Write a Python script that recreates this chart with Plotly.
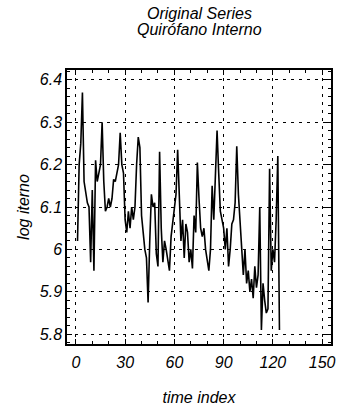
import plotly.graph_objects as go

t = list(range(1, 125))
log_iterno = [
    6.02, 6.20, 6.25, 6.37, 6.16, 6.13, 6.11, 6.10, 5.97, 6.14,
    5.95, 6.21, 6.16, 6.18, 6.20, 6.30, 6.16, 6.09, 6.10, 6.12,
    6.10, 6.12, 6.165, 6.16, 6.18, 6.20, 6.275, 6.20, 6.18, 6.07,
    6.04, 6.09, 6.05, 6.10, 6.07, 6.10, 6.20, 6.265, 6.24, 6.08,
    6.04, 6.00, 5.98, 5.875, 6.02, 6.13, 6.10, 6.11, 5.99, 5.96,
    6.23, 6.05, 5.97, 6.02, 6.00, 5.97, 5.95, 6.03, 6.06, 6.10,
    6.13, 6.235, 6.14, 6.02, 6.07, 5.98, 6.06, 6.04, 5.97, 6.00,
    5.955, 6.08, 6.04, 6.205, 6.12, 6.05, 6.03, 6.05, 6.00, 5.97,
    5.95, 6.00, 6.15, 6.07, 6.16, 6.28, 6.18, 6.09, 6.07, 6.05,
    6.00, 6.05, 5.96, 6.00, 6.06, 6.07, 6.11, 6.243, 6.13, 6.06,
    6.00, 5.94, 6.00, 5.92, 5.95, 5.90, 5.93, 5.885, 5.96, 5.91,
    5.94, 6.10, 5.81, 5.92, 5.88, 5.85, 5.86, 6.19, 5.95, 6.00,
    5.97, 6.07, 6.22, 5.81,
]

x_ticks = [0, 30, 60, 90, 120, 150]
y_ticks = [5.8, 5.9, 6.0, 6.1, 6.2, 6.3, 6.4]
y_tick_labels = ["5.8", "5.9", "6", "6.1", "6.2", "6.3", "6.4"]
title_lines = ["Original Series", "Quirófano Interno"]

font_family = "Liberation Sans, Arial, sans-serif"

fig = go.Figure()
fig.add_trace(go.Scatter(
    x=t, y=log_iterno, mode="lines",
    line=dict(color="black", width=1.6),
    showlegend=False,
))

axis_common = dict(
    showline=True, linecolor="black", linewidth=1.5, mirror="ticks",
    ticks="inside", ticklen=5, tickcolor="black", tickwidth=1,
    showgrid=True, gridcolor="black", gridwidth=1, griddash="3px,5px",
    zeroline=False,
    tickfont=dict(family=font_family, size=16, color="black", style="italic"),
)

title_ys = [1.207, 1.149]
annotations = [
    dict(
        text="<i>" + line + "</i>",
        xref="paper", yref="paper", x=0.5, y=yy,
        xanchor="center", yanchor="middle", showarrow=False,
        font=dict(family=font_family, size=16, color="black"),
    )
    for line, yy in zip(title_lines, title_ys)
]

fig.update_layout(
    width=344, height=413,
    margin=dict(l=67, r=9, t=70, b=68),
    paper_bgcolor="white", plot_bgcolor="white",
    font=dict(family=font_family, color="black"),
    annotations=annotations,
    xaxis=dict(
        range=[-5.4, 155.4], tickvals=x_ticks, ticklabelstandoff=3,
        minor=dict(dtick=10, tick0=0, ticks="inside", ticklen=3, tickcolor="black", showgrid=False),
        title=dict(text="<i>time index</i>", font=dict(family=font_family, size=16, color="black"), standoff=22),
        **axis_common,
    ),
    yaxis=dict(
        range=[5.777, 6.423], tickvals=y_ticks, ticktext=y_tick_labels,
        minor=dict(dtick=0.02, tick0=5.8, ticks="inside", ticklen=3, tickcolor="black", showgrid=False),
        title=dict(text="<i>log iterno</i>", font=dict(family=font_family, size=16, color="black"), standoff=6),
        **axis_common,
    ),
)

fig.write_html("out.html")
